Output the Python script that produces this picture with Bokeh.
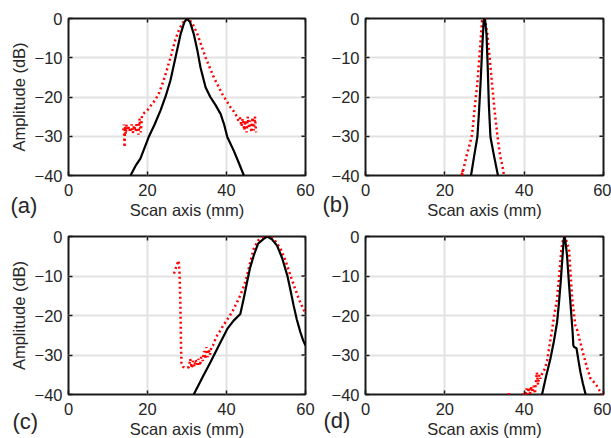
from bokeh.plotting import figure
from bokeh.models import Range1d, FixedTicker, Label, GridBox, Column
from bokeh.embed import file_html
from bokeh.resources import INLINE
import math

# ---------------- data ----------------
x_ticks = [0, 20, 40, 60]
y_ticks = [-40, -30, -20, -10, 0]

# (a)
a_black_x = [15.7, 17.0, 18.2, 20.3, 21.8, 23.3, 24.6, 25.8, 27.1, 28.4, 29.3, 30.0, 30.8, 31.7,
             32.6, 33.4, 34.7, 35.9, 37.2, 38.5, 39.4, 40.2, 41.8, 43.0, 44.4]
a_black_y = [-40, -37.5, -35.7, -30.2, -27.0, -23.4, -19.8, -15.8, -9.9, -3.9, -1.0, 0, -1.0, -3.9,
             -8.0, -12.4, -17.5, -20.0, -22.0, -24.3, -27.0, -30.2, -33.6, -36.5, -40]
a_red_x = [13.9, 14.0, 14.1, 14.2, 14.3, 14.5, 14.7, 15.0, 15.3, 15.6, 16.0, 16.3, 16.6, 17.0,
           17.3, 17.7, 18.0, 18.3, 18.6, 19.2, 20.0, 21.0, 22.0, 23.0, 24.0, 25.0, 26.0, 27.0,
           28.0, 29.0, 30.0, 30.4, 31.5, 32.6, 33.6, 34.7, 35.8, 36.8, 37.9, 38.9, 40.0, 41.0,
           41.8, 42.5, 43.0, 43.4, 43.8, 44.1, 44.5, 44.8, 45.1, 45.4, 45.7, 46.0, 46.3, 46.6,
           46.9, 47.2, 47.5]
a_red_y = [-28.5, -27.0, -30.0, -32.8, -27.5, -29.5, -27.0, -28.5, -27.5, -29.0, -27.0, -29.2,
           -27.2, -28.8, -26.5, -29.6, -25.5, -29.0, -24.8, -24.0, -23.3, -22.0, -20.7, -18.8,
           -16.0, -12.8, -9.3, -5.6, -2.8, -1.0, -0.1, 0.0, -1.5, -3.9, -6.8, -9.9, -12.6, -15.0,
           -17.2, -19.2, -21.0, -22.6, -23.6, -24.8, -26.0, -25.2, -27.5, -25.5, -28.5, -26.0,
           -29.0, -25.0, -28.0, -26.0, -29.0, -25.2, -28.5, -25.0, -29.0]

# (b)
b_black_x = [26.6, 27.4, 28.2, 28.6, 29.0, 29.4, 29.8, 30.1, 30.5, 30.8, 31.1, 31.5, 32.4, 33.4]
b_black_y = [-40, -35, -30.2, -24, -16.6, -8, -0.5, 0, -3.9, -12, -22, -30.2, -35, -40]
b_red_x = [24.3, 24.5, 24.4, 24.6, 25.0, 25.6, 26.3, 26.9, 27.5, 28.2, 28.8, 29.4, 30.1, 30.7,
           31.3, 31.9, 32.5, 33.2, 33.6, 34.0, 34.5, 34.9]
b_red_y = [-39.8, -38.6, -40.0, -38.8, -37.0, -34.5, -32.0, -29.4, -23.0, -16.6, -8.5, -0.5, 0,
           -3.9, -10.0, -16.6, -23.0, -29.4, -32.5, -35.3, -37.5, -40]

# (c)
c_black_x = [31.7, 34.0, 36.0, 38.0, 40.2, 41.8, 43.5, 44.4, 45.2, 46.0, 46.9, 48.0, 49.4, 50.3,
             51.5, 52.8, 54.1, 55.4, 56.2, 57.0, 57.8, 58.7, 59.4, 60.0]
c_black_y = [-40, -35.5, -31.7, -27.7, -23.4, -21.3, -19.6, -15.5, -11.6, -7.8, -4.8, -1.8, -0.6,
             0, -0.7, -2.3, -5.5, -9.9, -13.6, -17.5, -21.0, -24.2, -26.3, -27.6]
c_red_x = [26.7, 27.1, 27.5, 27.9, 28.1, 28.3, 28.4, 28.5, 28.6, 29.0, 29.5, 30.0, 30.5, 30.8,
           31.2, 31.5, 31.9, 32.2, 32.6, 32.9, 33.3, 33.6, 34.0, 34.3, 34.6, 34.9, 35.2, 35.5,
           35.8, 36.2, 36.6, 37.1, 37.6, 38.3, 39.2, 40.2, 41.5, 42.5, 43.5, 44.5, 45.2, 46.0,
           46.9, 48.0, 49.4, 50.3, 51.2, 52.4, 53.7, 55.0, 56.2, 57.3, 58.3, 59.2, 60.0]
c_red_y = [-9.4, -8.2, -7.0, -6.1, -9.0, -15.7, -22.0, -28.4, -32.0, -33.0, -33.2, -33.3, -33.0,
           -31.0, -33.3, -31.5, -33.0, -31.2, -32.5, -31.0, -32.7, -30.5, -31.5, -29.0, -31.0,
           -28.0, -30.5, -28.5, -30.0, -27.8, -27.5, -26.2, -25.1, -24.0, -22.5, -21.0, -19.0,
           -17.0, -14.9, -12.3, -9.9, -6.6, -3.1, -1.0, -0.1, 0, 0, -1.2, -3.1, -6.3, -9.9,
           -13.0, -15.8, -17.8, -19.6]

# (d)
d_black_x = [44.5, 45.5, 46.6, 47.5, 48.3, 48.8, 49.2, 49.6, 50.0, 50.2, 50.5, 50.8, 51.3, 51.9,
             52.2, 52.4, 52.6, 53.2, 53.7, 54.2, 54.8, 55.5]
d_black_y = [-40, -35.5, -31, -26.5, -21.7, -16.5, -11.6, -6, -0.6, 0, -2, -4.8, -12, -20, -24,
             -27.6, -28.0, -28.3, -31.5, -34.4, -37.2, -40]
d_red_x = [35.8, 36.1, 36.4, 38.0, 39.6, 39.9, 40.2, 40.6, 40.9, 41.2, 41.5, 41.8, 42.1, 42.4,
           42.7, 43.0, 43.2, 43.5, 43.8, 44.1, 44.5, 45.2, 45.8, 46.4, 47.0, 47.6, 48.3, 48.9,
           49.4, 49.8, 50.2, 50.6, 51.3, 52.1, 52.9, 53.4, 54.2, 55.0, 55.8, 56.7, 57.2, 57.6,
           58.3, 59.0, 59.7, 60.0]
d_red_y = [-41, -39.7, -41.5, -42, -41, -39.4, -40.5, -38.5, -40, -38.2, -39.8, -38.0, -39.5,
           -37.8, -39.8, -36.5, -34.4, -37.5, -35.0, -36.0, -34.8, -33.5, -31.4, -27.5, -23.8,
           -19.8, -15.8, -9.0, -3.1, -0.8, 0, -1.0, -3.1, -15.8, -22.5, -23.8, -27.0, -30.1,
           -33.0, -35.9, -36.5, -36.9, -37.8, -39.0, -40.0, -40.5]

tags = ["(a)", "(b)", "(c)", "(d)"]
x_label = "Scan axis (mm)"
y_label = "Amplitude (dB)"

# ---------------- styling ----------------
FONT = "Liberation Sans"
TXT = "#262626"
FRAME = "#1a1a1a"
FS = "16.5px"


def panel(bx, by, rx, ry, width, height, left, right, top, bottom, ylab, xlab_axis):
    p = figure(width=width, height=height, x_range=Range1d(0, 60), y_range=Range1d(-40, 0),
               output_backend="svg", toolbar_location=None,
               min_border_left=left, min_border_right=right,
               min_border_top=top, min_border_bottom=bottom,
               border_fill_color=None)
    p.outline_line_color = FRAME
    p.outline_line_width = 2

    xt = FixedTicker(ticks=x_ticks)
    yt = FixedTicker(ticks=y_ticks)
    p.xaxis.ticker = xt
    p.yaxis.ticker = yt
    p.xgrid.ticker = xt
    p.ygrid.ticker = yt
    for g in (p.xgrid, p.ygrid):
        g.grid_line_color = "#e2e2e2"
        g.grid_line_width = 2

    for ax in (p.xaxis[0], p.yaxis[0]):
        ax.axis_line_color = None
        ax.major_tick_in = 4
        ax.major_tick_out = 0
        ax.minor_tick_in = 0
        ax.minor_tick_out = 0
        ax.major_tick_line_color = FRAME
        ax.major_tick_line_width = 1.5
        ax.major_label_text_font = FONT
        ax.major_label_text_font_size = FS
        ax.major_label_text_color = TXT
        ax.axis_label_text_font = FONT
        ax.axis_label_text_font_size = FS
        ax.axis_label_text_font_style = "normal"
        ax.axis_label_text_color = TXT
    p.xaxis.major_label_standoff = 8
    p.yaxis.major_label_standoff = 6
    if xlab_axis:
        p.xaxis.axis_label = x_label
        p.xaxis.axis_label_standoff = 2
    if ylab:
        p.yaxis.axis_label = y_label
        p.yaxis.axis_label_standoff = 4

    # inward ticks on the top and right edges of the box (half of each dash is clipped)
    p.scatter(x_ticks, [0] * len(x_ticks), marker="dash", size=8, angle=math.pi / 2,
              line_color=FRAME, line_width=1.5)
    p.scatter([60] * len(y_ticks), y_ticks, marker="dash", size=8,
              line_color=FRAME, line_width=1.5)

    p.line(rx, ry, line_color="red", line_width=2.5, line_dash="2 3")
    p.line(bx, by, line_color="black", line_width=2.2)
    return p


pa = panel(a_black_x, a_black_y, a_red_x, a_red_y, 318, 225, 68, 13, 18, 50, True, True)
pb = panel(b_black_x, b_black_y, b_red_x, b_red_y, 293, 225, 47, 8, 18, 50, False, True)
pc = panel(c_black_x, c_black_y, c_red_x, c_red_y, 318, 213, 68, 13, 11, 44, True, False)
pd_ = panel(d_black_x, d_black_y, d_red_x, d_red_y, 293, 213, 47, 8, 11, 44, False, False)

# transparent text layer over the whole grid (1 unit = 1 px, y measured from the top)
ov = figure(width=611, height=438, x_range=Range1d(0, 611), y_range=Range1d(438, 0),
            x_axis_location=None, y_axis_location=None, toolbar_location=None,
            output_backend="svg", min_border=0, border_fill_color=None,
            background_fill_color=None, outline_line_color=None)
ov.xgrid.visible = False
ov.ygrid.visible = False

tag_pos = [(10, 205), (322, 204), (12, 421), (323, 420)]
for t, (tx, ty) in zip(tags, tag_pos):
    ov.add_layout(Label(x=tx, y=ty, text=t, text_font=FONT, text_font_size="22px",
                        text_color=TXT, text_baseline="alphabetic"))
for cx in (186.5, 484):
    ov.add_layout(Label(x=cx, y=428, text=x_label, text_font=FONT, text_font_size=FS,
                        text_color=TXT, text_align="center", text_baseline="alphabetic"))

ov_box = Column(children=[ov], width=611, height=438)

grid = GridBox(children=[(pa, 0, 0), (pb, 0, 1), (pc, 1, 0), (pd_, 1, 1), (ov_box, 0, 0, 2, 2)])

open("out.html", "w").write(file_html(grid, INLINE))
